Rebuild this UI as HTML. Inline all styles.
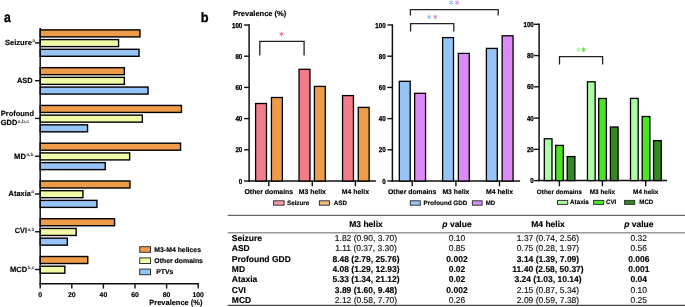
<!DOCTYPE html>
<html><head><meta charset="utf-8"><style>
html,body{margin:0;padding:0;background:#fff;}
body{width:685px;height:307px;overflow:hidden;}
svg{display:block;font-family:"Liberation Sans", sans-serif;will-change:transform;text-rendering:geometricPrecision;}
text{stroke:#000;stroke-width:0.15px;}
</style></head><body>
<svg width="685" height="307" viewBox="0 0 685 307">
<rect width="685" height="307" fill="#fff"/>
<text transform="translate(4.0,21.8) scale(0.86,1)" font-size="14.2" font-weight="bold" style="stroke-width:0.3px">a</text>
<line x1="40.2" y1="28" x2="40.2" y2="284.5" stroke="#111" stroke-width="1.5"/>
<line x1="39.5" y1="283.8" x2="198.89999999999998" y2="283.8" stroke="#111" stroke-width="1.5"/>
<line x1="40.2" y1="283.8" x2="40.2" y2="288.6" stroke="#111" stroke-width="1.4"/>
<text x="40.2" y="296.9" font-size="6.9" font-weight="bold" text-anchor="middle" fill="#000" >0</text>
<line x1="71.80000000000001" y1="283.8" x2="71.80000000000001" y2="288.6" stroke="#111" stroke-width="1.4"/>
<text x="71.80000000000001" y="296.9" font-size="6.9" font-weight="bold" text-anchor="middle" fill="#000" >20</text>
<line x1="103.4" y1="283.8" x2="103.4" y2="288.6" stroke="#111" stroke-width="1.4"/>
<text x="103.4" y="296.9" font-size="6.9" font-weight="bold" text-anchor="middle" fill="#000" >40</text>
<line x1="135.0" y1="283.8" x2="135.0" y2="288.6" stroke="#111" stroke-width="1.4"/>
<text x="135.0" y="296.9" font-size="6.9" font-weight="bold" text-anchor="middle" fill="#000" >60</text>
<line x1="166.60000000000002" y1="283.8" x2="166.60000000000002" y2="288.6" stroke="#111" stroke-width="1.4"/>
<text x="166.60000000000002" y="296.9" font-size="6.9" font-weight="bold" text-anchor="middle" fill="#000" >80</text>
<line x1="198.2" y1="283.8" x2="198.2" y2="288.6" stroke="#111" stroke-width="1.4"/>
<text x="198.2" y="296.9" font-size="6.9" font-weight="bold" text-anchor="middle" fill="#000" >100</text>
<text x="149.3" y="304.8" font-size="7.5" font-weight="bold" textLength="53.1" lengthAdjust="spacingAndGlyphs">Prevalence (%)</text>
<rect x="40.20" y="29.90" width="99.75" height="7.00" fill="#ee9c4a" stroke="#000" stroke-width="1.4"/>
<rect x="40.20" y="39.60" width="78.35" height="7.00" fill="#f4fba6" stroke="#000" stroke-width="1.4"/>
<rect x="40.20" y="49.30" width="98.85" height="7.00" fill="#97c4f6" stroke="#000" stroke-width="1.4"/>
<line x1="35" y1="42.9" x2="40.2" y2="42.9" stroke="#111" stroke-width="1.4"/>
<text x="4.9" y="44.60" font-size="7.5" font-weight="bold" textLength="27.0" lengthAdjust="spacingAndGlyphs">Seizure</text>
<text x="32.30" y="42.40" font-size="4.9" font-weight="bold" fill="#3a3a3a" style="stroke:none">a</text>
<rect x="40.20" y="67.67" width="84.15" height="7.00" fill="#ee9c4a" stroke="#000" stroke-width="1.4"/>
<rect x="40.20" y="77.37" width="84.15" height="7.00" fill="#f4fba6" stroke="#000" stroke-width="1.4"/>
<rect x="40.20" y="87.07" width="107.85" height="7.00" fill="#97c4f6" stroke="#000" stroke-width="1.4"/>
<line x1="35" y1="80.67" x2="40.2" y2="80.67" stroke="#111" stroke-width="1.4"/>
<text x="17.0" y="83.37" font-size="7.5" font-weight="bold" textLength="15.6" lengthAdjust="spacingAndGlyphs">ASD</text>
<rect x="40.20" y="105.44" width="141.25" height="7.00" fill="#ee9c4a" stroke="#000" stroke-width="1.4"/>
<rect x="40.20" y="115.14" width="102.15" height="7.00" fill="#f4fba6" stroke="#000" stroke-width="1.4"/>
<rect x="40.20" y="124.84" width="47.35" height="7.00" fill="#97c4f6" stroke="#000" stroke-width="1.4"/>
<line x1="35" y1="118.44000000000001" x2="40.2" y2="118.44000000000001" stroke="#111" stroke-width="1.4"/>
<text x="0.8" y="115.6" font-size="7.5" font-weight="bold" textLength="33.2" lengthAdjust="spacingAndGlyphs">Profound</text>
<text x="0.8" y="124.9" font-size="7.5" font-weight="bold" textLength="16.5" lengthAdjust="spacingAndGlyphs">GDD</text>
<text x="17.8" y="122.9" font-size="4.9" font-weight="bold" fill="#3a3a3a" style="stroke:none">a,b,c</text>
<rect x="40.20" y="143.21" width="140.35" height="7.00" fill="#ee9c4a" stroke="#000" stroke-width="1.4"/>
<rect x="40.20" y="152.91" width="89.45" height="7.00" fill="#f4fba6" stroke="#000" stroke-width="1.4"/>
<rect x="40.20" y="162.61" width="65.05" height="7.00" fill="#97c4f6" stroke="#000" stroke-width="1.4"/>
<line x1="35" y1="156.20999999999998" x2="40.2" y2="156.20999999999998" stroke="#111" stroke-width="1.4"/>
<text x="14.1" y="158.51" font-size="7.5" font-weight="bold" textLength="11.9" lengthAdjust="spacingAndGlyphs">MD</text>
<text x="26.40" y="156.31" font-size="4.9" font-weight="bold" fill="#3a3a3a" style="stroke:none">a,b</text>
<rect x="40.20" y="180.98" width="89.75" height="7.00" fill="#ee9c4a" stroke="#000" stroke-width="1.4"/>
<rect x="40.20" y="190.68" width="42.75" height="7.00" fill="#f4fba6" stroke="#000" stroke-width="1.4"/>
<rect x="40.20" y="200.38" width="56.75" height="7.00" fill="#97c4f6" stroke="#000" stroke-width="1.4"/>
<line x1="35" y1="193.98" x2="40.2" y2="193.98" stroke="#111" stroke-width="1.4"/>
<text x="8.6" y="195.58" font-size="7.5" font-weight="bold" textLength="22.3" lengthAdjust="spacingAndGlyphs">Ataxia</text>
<text x="31.30" y="193.38" font-size="4.9" font-weight="bold" fill="#3a3a3a" style="stroke:none">a</text>
<rect x="40.20" y="218.75" width="74.35" height="7.00" fill="#ee9c4a" stroke="#000" stroke-width="1.4"/>
<rect x="40.20" y="228.45" width="35.95" height="7.00" fill="#f4fba6" stroke="#000" stroke-width="1.4"/>
<rect x="40.20" y="238.15" width="27.15" height="7.00" fill="#97c4f6" stroke="#000" stroke-width="1.4"/>
<line x1="35" y1="231.75" x2="40.2" y2="231.75" stroke="#111" stroke-width="1.4"/>
<text x="14.8" y="233.05" font-size="7.5" font-weight="bold" textLength="12.2" lengthAdjust="spacingAndGlyphs">CVI</text>
<text x="27.40" y="230.85" font-size="4.9" font-weight="bold" fill="#3a3a3a" style="stroke:none">a,b</text>
<rect x="40.20" y="256.52" width="47.55" height="7.00" fill="#ee9c4a" stroke="#000" stroke-width="1.4"/>
<rect x="40.20" y="266.22" width="24.65" height="7.00" fill="#f4fba6" stroke="#000" stroke-width="1.4"/>
<line x1="35" y1="269.52" x2="40.2" y2="269.52" stroke="#111" stroke-width="1.4"/>
<text x="10.0" y="271.62" font-size="7.5" font-weight="bold" textLength="17.1" lengthAdjust="spacingAndGlyphs">MCD</text>
<text x="27.50" y="269.42" font-size="4.9" font-weight="bold" fill="#3a3a3a" style="stroke:none">b,c</text>
<rect x="139.70" y="246.70" width="10.80" height="5.60" fill="#ee9c4a" stroke="#333" stroke-width="1.0"/>
<text x="154.3" y="251.90" font-size="6.9" font-weight="bold" xml:space="preserve">M3-M4 helices</text>
<rect x="139.70" y="257.90" width="10.80" height="5.60" fill="#f4fba6" stroke="#333" stroke-width="1.0"/>
<text x="154.3" y="263.10" font-size="6.9" font-weight="bold" xml:space="preserve">Other domains</text>
<rect x="139.70" y="269.10" width="10.80" height="5.60" fill="#97c4f6" stroke="#333" stroke-width="1.0"/>
<text x="154.3" y="274.30" font-size="6.9" font-weight="bold" xml:space="preserve"> PTVs</text>
<text transform="translate(200.7,21.7) scale(0.95,1)" font-size="13.5" font-weight="bold" style="stroke-width:0.3px">b</text>
<text x="232.9" y="15.7" font-size="7.5" font-weight="bold" text-anchor="start" fill="#000" >Prevalence (%)</text>
<line x1="249.1" y1="24.3" x2="249.1" y2="181.7" stroke="#111" stroke-width="1.5"/>
<line x1="248.4" y1="181.0" x2="375.9" y2="181.0" stroke="#111" stroke-width="1.5"/>
<line x1="244.1" y1="181.0" x2="249.1" y2="181.0" stroke="#111" stroke-width="1.4"/>
<text transform="translate(242.30,183.55) scale(1,1.15)" font-size="6.2" font-weight="bold" text-anchor="end" style="stroke-width:0.25px">0</text>
<line x1="244.1" y1="149.8" x2="249.1" y2="149.8" stroke="#111" stroke-width="1.4"/>
<text transform="translate(242.30,152.35) scale(1,1.15)" font-size="6.2" font-weight="bold" text-anchor="end" style="stroke-width:0.25px">20</text>
<line x1="244.1" y1="118.6" x2="249.1" y2="118.6" stroke="#111" stroke-width="1.4"/>
<text transform="translate(242.30,121.15) scale(1,1.15)" font-size="6.2" font-weight="bold" text-anchor="end" style="stroke-width:0.25px">40</text>
<line x1="244.1" y1="87.39999999999999" x2="249.1" y2="87.39999999999999" stroke="#111" stroke-width="1.4"/>
<text transform="translate(242.30,89.95) scale(1,1.15)" font-size="6.2" font-weight="bold" text-anchor="end" style="stroke-width:0.25px">60</text>
<line x1="244.1" y1="56.19999999999999" x2="249.1" y2="56.19999999999999" stroke="#111" stroke-width="1.4"/>
<text transform="translate(242.30,58.75) scale(1,1.15)" font-size="6.2" font-weight="bold" text-anchor="end" style="stroke-width:0.25px">80</text>
<line x1="244.1" y1="25.0" x2="249.1" y2="25.0" stroke="#111" stroke-width="1.4"/>
<text transform="translate(242.30,27.55) scale(1,1.15)" font-size="6.2" font-weight="bold" text-anchor="end" style="stroke-width:0.25px">100</text>
<line x1="268.8" y1="181.0" x2="268.8" y2="186.3" stroke="#111" stroke-width="1.4"/>
<text x="268.8" y="193.8" font-size="6.9" font-weight="bold" text-anchor="middle" fill="#000" >Other domains</text>
<line x1="312.3" y1="181.0" x2="312.3" y2="186.3" stroke="#111" stroke-width="1.4"/>
<text x="312.3" y="193.8" font-size="6.9" font-weight="bold" text-anchor="middle" fill="#000" >M3 helix</text>
<line x1="355.4" y1="181.0" x2="355.4" y2="186.3" stroke="#111" stroke-width="1.4"/>
<text x="355.4" y="193.8" font-size="6.9" font-weight="bold" text-anchor="middle" fill="#000" >M4 helix</text>
<line x1="392.4" y1="24.3" x2="392.4" y2="181.7" stroke="#111" stroke-width="1.5"/>
<line x1="391.7" y1="181.0" x2="520.1" y2="181.0" stroke="#111" stroke-width="1.5"/>
<line x1="387.4" y1="181.0" x2="392.4" y2="181.0" stroke="#111" stroke-width="1.4"/>
<text transform="translate(385.60,183.55) scale(1,1.15)" font-size="6.2" font-weight="bold" text-anchor="end" style="stroke-width:0.25px">0</text>
<line x1="387.4" y1="149.8" x2="392.4" y2="149.8" stroke="#111" stroke-width="1.4"/>
<text transform="translate(385.60,152.35) scale(1,1.15)" font-size="6.2" font-weight="bold" text-anchor="end" style="stroke-width:0.25px">20</text>
<line x1="387.4" y1="118.6" x2="392.4" y2="118.6" stroke="#111" stroke-width="1.4"/>
<text transform="translate(385.60,121.15) scale(1,1.15)" font-size="6.2" font-weight="bold" text-anchor="end" style="stroke-width:0.25px">40</text>
<line x1="387.4" y1="87.39999999999999" x2="392.4" y2="87.39999999999999" stroke="#111" stroke-width="1.4"/>
<text transform="translate(385.60,89.95) scale(1,1.15)" font-size="6.2" font-weight="bold" text-anchor="end" style="stroke-width:0.25px">60</text>
<line x1="387.4" y1="56.19999999999999" x2="392.4" y2="56.19999999999999" stroke="#111" stroke-width="1.4"/>
<text transform="translate(385.60,58.75) scale(1,1.15)" font-size="6.2" font-weight="bold" text-anchor="end" style="stroke-width:0.25px">80</text>
<line x1="387.4" y1="25.0" x2="392.4" y2="25.0" stroke="#111" stroke-width="1.4"/>
<text transform="translate(385.60,27.55) scale(1,1.15)" font-size="6.2" font-weight="bold" text-anchor="end" style="stroke-width:0.25px">100</text>
<line x1="412.2" y1="181.0" x2="412.2" y2="186.3" stroke="#111" stroke-width="1.4"/>
<text x="412.2" y="193.8" font-size="6.85" font-weight="bold" text-anchor="middle" fill="#000" >Other domains</text>
<line x1="455.9" y1="181.0" x2="455.9" y2="186.3" stroke="#111" stroke-width="1.4"/>
<text x="455.9" y="193.8" font-size="6.85" font-weight="bold" text-anchor="middle" fill="#000" >M3 helix</text>
<line x1="499.5" y1="181.0" x2="499.5" y2="186.3" stroke="#111" stroke-width="1.4"/>
<text x="499.5" y="193.8" font-size="6.85" font-weight="bold" text-anchor="middle" fill="#000" >M4 helix</text>
<line x1="539.1" y1="23.6" x2="539.1" y2="181.29999999999998" stroke="#111" stroke-width="1.5"/>
<line x1="538.4" y1="180.6" x2="667.1" y2="180.6" stroke="#111" stroke-width="1.5"/>
<line x1="534.1" y1="180.6" x2="539.1" y2="180.6" stroke="#111" stroke-width="1.4"/>
<text transform="translate(533.80,183.15) scale(1,1.15)" font-size="6.2" font-weight="bold" text-anchor="end" style="stroke-width:0.25px">0</text>
<line x1="534.1" y1="149.34" x2="539.1" y2="149.34" stroke="#111" stroke-width="1.4"/>
<text transform="translate(533.80,151.89) scale(1,1.15)" font-size="6.2" font-weight="bold" text-anchor="end" style="stroke-width:0.25px">20</text>
<line x1="534.1" y1="118.08000000000001" x2="539.1" y2="118.08000000000001" stroke="#111" stroke-width="1.4"/>
<text transform="translate(533.80,120.63) scale(1,1.15)" font-size="6.2" font-weight="bold" text-anchor="end" style="stroke-width:0.25px">40</text>
<line x1="534.1" y1="86.82000000000001" x2="539.1" y2="86.82000000000001" stroke="#111" stroke-width="1.4"/>
<text transform="translate(533.80,89.37) scale(1,1.15)" font-size="6.2" font-weight="bold" text-anchor="end" style="stroke-width:0.25px">60</text>
<line x1="534.1" y1="55.56000000000002" x2="539.1" y2="55.56000000000002" stroke="#111" stroke-width="1.4"/>
<text transform="translate(533.80,58.11) scale(1,1.15)" font-size="6.2" font-weight="bold" text-anchor="end" style="stroke-width:0.25px">80</text>
<line x1="534.1" y1="24.30000000000001" x2="539.1" y2="24.30000000000001" stroke="#111" stroke-width="1.4"/>
<text transform="translate(533.80,26.85) scale(1,1.15)" font-size="6.2" font-weight="bold" text-anchor="end" style="stroke-width:0.25px">100</text>
<line x1="559.4" y1="180.6" x2="559.4" y2="186.3" stroke="#111" stroke-width="1.4"/>
<text x="559.4" y="193.6" font-size="6.4" font-weight="bold" text-anchor="middle" fill="#000" >Other domains</text>
<line x1="602.4" y1="180.6" x2="602.4" y2="186.3" stroke="#111" stroke-width="1.4"/>
<text x="602.4" y="193.6" font-size="6.4" font-weight="bold" text-anchor="middle" fill="#000" >M3 helix</text>
<line x1="645.7" y1="180.6" x2="645.7" y2="186.3" stroke="#111" stroke-width="1.4"/>
<text x="645.7" y="193.6" font-size="6.4" font-weight="bold" text-anchor="middle" fill="#000" >M4 helix</text>
<rect x="255.60" y="103.50" width="10.90" height="77.50" fill="#f27c88" stroke="#000" stroke-width="1.3"/>
<rect x="299.05" y="69.30" width="10.90" height="111.70" fill="#f27c88" stroke="#000" stroke-width="1.3"/>
<rect x="342.55" y="95.60" width="10.90" height="85.40" fill="#f27c88" stroke="#000" stroke-width="1.3"/>
<rect x="271.45" y="97.50" width="10.90" height="83.50" fill="#ee9c4a" stroke="#000" stroke-width="1.3"/>
<rect x="314.40" y="86.40" width="10.90" height="94.60" fill="#ee9c4a" stroke="#000" stroke-width="1.3"/>
<rect x="358.25" y="107.40" width="10.90" height="73.60" fill="#ee9c4a" stroke="#000" stroke-width="1.3"/>
<rect x="399.30" y="81.30" width="10.90" height="99.70" fill="#97c4f6" stroke="#000" stroke-width="1.3"/>
<rect x="442.60" y="37.60" width="10.90" height="143.40" fill="#97c4f6" stroke="#000" stroke-width="1.3"/>
<rect x="486.40" y="48.40" width="10.90" height="132.60" fill="#97c4f6" stroke="#000" stroke-width="1.3"/>
<rect x="414.65" y="93.30" width="10.90" height="87.70" fill="#dd89f9" stroke="#000" stroke-width="1.3"/>
<rect x="458.35" y="53.40" width="10.90" height="127.60" fill="#dd89f9" stroke="#000" stroke-width="1.3"/>
<rect x="502.15" y="35.80" width="10.90" height="145.20" fill="#dd89f9" stroke="#000" stroke-width="1.3"/>
<rect x="544.30" y="138.80" width="7.70" height="41.80" fill="#aefaa6" stroke="#000" stroke-width="1.3"/>
<rect x="587.45" y="81.80" width="7.70" height="98.80" fill="#aefaa6" stroke="#000" stroke-width="1.3"/>
<rect x="630.50" y="98.40" width="7.70" height="82.20" fill="#aefaa6" stroke="#000" stroke-width="1.3"/>
<rect x="555.60" y="145.40" width="7.70" height="35.20" fill="#4ae624" stroke="#000" stroke-width="1.3"/>
<rect x="598.70" y="98.50" width="7.70" height="82.10" fill="#4ae624" stroke="#000" stroke-width="1.3"/>
<rect x="642.20" y="116.50" width="7.70" height="64.10" fill="#4ae624" stroke="#000" stroke-width="1.3"/>
<rect x="567.20" y="156.60" width="7.70" height="24.00" fill="#338a20" stroke="#000" stroke-width="1.3"/>
<rect x="610.40" y="127.00" width="7.70" height="53.60" fill="#338a20" stroke="#000" stroke-width="1.3"/>
<rect x="653.55" y="140.60" width="7.70" height="40.00" fill="#338a20" stroke="#000" stroke-width="1.3"/>
<polyline points="259.8,55.6 259.8,41.3 304.1,41.3 304.1,55.6" fill="none" stroke="#222" stroke-width="1.3"/>
<line x1="281.60" y1="32.10" x2="281.60" y2="36.10" stroke="#f27c88" stroke-width="1.0" stroke-linecap="round"/>
<line x1="283.33" y1="33.10" x2="279.87" y2="35.10" stroke="#f27c88" stroke-width="1.0" stroke-linecap="round"/>
<line x1="283.33" y1="35.10" x2="279.87" y2="33.10" stroke="#f27c88" stroke-width="1.0" stroke-linecap="round"/>
<polyline points="410.6,31.6 410.6,23.6 453.8,23.6 453.8,31.6" fill="none" stroke="#222" stroke-width="1.3"/>
<line x1="429.20" y1="14.90" x2="429.20" y2="18.90" stroke="#97c4f6" stroke-width="1.0" stroke-linecap="round"/>
<line x1="430.93" y1="15.90" x2="427.47" y2="17.90" stroke="#97c4f6" stroke-width="1.0" stroke-linecap="round"/>
<line x1="430.93" y1="17.90" x2="427.47" y2="15.90" stroke="#97c4f6" stroke-width="1.0" stroke-linecap="round"/>
<line x1="435.30" y1="14.90" x2="435.30" y2="18.90" stroke="#dd89f9" stroke-width="1.0" stroke-linecap="round"/>
<line x1="437.03" y1="15.90" x2="433.57" y2="17.90" stroke="#dd89f9" stroke-width="1.0" stroke-linecap="round"/>
<line x1="437.03" y1="17.90" x2="433.57" y2="15.90" stroke="#dd89f9" stroke-width="1.0" stroke-linecap="round"/>
<polyline points="410.4,15.6 410.4,9.6 498.2,9.6 498.2,15.6" fill="none" stroke="#222" stroke-width="1.3"/>
<line x1="451.00" y1="0.60" x2="451.00" y2="4.60" stroke="#97c4f6" stroke-width="1.0" stroke-linecap="round"/>
<line x1="452.73" y1="1.60" x2="449.27" y2="3.60" stroke="#97c4f6" stroke-width="1.0" stroke-linecap="round"/>
<line x1="452.73" y1="3.60" x2="449.27" y2="1.60" stroke="#97c4f6" stroke-width="1.0" stroke-linecap="round"/>
<line x1="457.00" y1="0.60" x2="457.00" y2="4.60" stroke="#dd89f9" stroke-width="1.0" stroke-linecap="round"/>
<line x1="458.73" y1="1.60" x2="455.27" y2="3.60" stroke="#dd89f9" stroke-width="1.0" stroke-linecap="round"/>
<line x1="458.73" y1="3.60" x2="455.27" y2="1.60" stroke="#dd89f9" stroke-width="1.0" stroke-linecap="round"/>
<polyline points="559.5,64.4 559.5,56.6 602.6,56.6 602.6,64.4" fill="none" stroke="#222" stroke-width="1.3"/>
<line x1="578.30" y1="47.60" x2="578.30" y2="51.60" stroke="#aefaa6" stroke-width="1.0" stroke-linecap="round"/>
<line x1="580.03" y1="48.60" x2="576.57" y2="50.60" stroke="#aefaa6" stroke-width="1.0" stroke-linecap="round"/>
<line x1="580.03" y1="50.60" x2="576.57" y2="48.60" stroke="#aefaa6" stroke-width="1.0" stroke-linecap="round"/>
<line x1="583.70" y1="47.60" x2="583.70" y2="51.60" stroke="#4ae624" stroke-width="1.0" stroke-linecap="round"/>
<line x1="585.43" y1="48.60" x2="581.97" y2="50.60" stroke="#4ae624" stroke-width="1.0" stroke-linecap="round"/>
<line x1="585.43" y1="50.60" x2="581.97" y2="48.60" stroke="#4ae624" stroke-width="1.0" stroke-linecap="round"/>
<rect x="273.60" y="200.80" width="10.50" height="4.40" fill="#f59aa6" stroke="#333" stroke-width="1.0"/>
<text x="287.0" y="204.8" font-size="6.3" font-weight="bold" textLength="22.2" lengthAdjust="spacingAndGlyphs">Seizure</text>
<rect x="319.40" y="200.80" width="10.00" height="4.40" fill="#f4bd7c" stroke="#333" stroke-width="1.0"/>
<text x="333.8" y="204.8" font-size="6.3" font-weight="bold" textLength="13.2" lengthAdjust="spacingAndGlyphs">ASD</text>
<rect x="410.30" y="200.80" width="10.00" height="4.40" fill="#97c4f6" stroke="#333" stroke-width="1.0"/>
<text x="423.6" y="204.8" font-size="6.3" font-weight="bold" textLength="43.8" lengthAdjust="spacingAndGlyphs">Profound GDD</text>
<rect x="472.40" y="200.80" width="9.70" height="4.40" fill="#dd89f9" stroke="#333" stroke-width="1.0"/>
<text x="485.7" y="204.8" font-size="6.3" font-weight="bold" textLength="9.4" lengthAdjust="spacingAndGlyphs">MD</text>
<rect x="557.50" y="200.40" width="10.20" height="4.00" fill="#aefaa6" stroke="#333" stroke-width="1.0"/>
<text x="570.1" y="204.4" font-size="6.3" font-weight="bold" textLength="18.7" lengthAdjust="spacingAndGlyphs">Ataxia</text>
<rect x="593.60" y="200.40" width="10.10" height="4.00" fill="#4ae624" stroke="#333" stroke-width="1.0"/>
<text x="606.0" y="204.4" font-size="6.3" font-weight="bold" textLength="10.3" lengthAdjust="spacingAndGlyphs">CVI</text>
<rect x="624.60" y="200.40" width="10.10" height="4.00" fill="#338a20" stroke="#333" stroke-width="1.0"/>
<text x="639.3" y="204.4" font-size="6.3" font-weight="bold" textLength="14.0" lengthAdjust="spacingAndGlyphs">MCD</text>
<line x1="227.7" y1="215.4" x2="685" y2="215.4" stroke="#666" stroke-width="1.1"/>
<line x1="227.7" y1="232.8" x2="685" y2="232.8" stroke="#999" stroke-width="1.5"/>
<line x1="227.7" y1="305.4" x2="685" y2="305.4" stroke="#4a4a4a" stroke-width="1.2"/>
<text x="366.0" y="226.9" font-size="8.5" font-weight="bold" text-anchor="middle" fill="#000" >M3 helix</text>
<text x="457.0" y="226.9" font-size="8.5" font-weight="bold" text-anchor="middle"><tspan font-style="italic">p</tspan> value</text>
<text x="548.0" y="226.9" font-size="8.5" font-weight="bold" text-anchor="middle" fill="#000" >M4 helix</text>
<text x="638.8" y="226.9" font-size="8.5" font-weight="bold" text-anchor="middle"><tspan font-style="italic">p</tspan> value</text>
<text x="231.8" y="240.7" font-size="8.5" font-weight="bold" text-anchor="start" fill="#000" >Seizure</text>
<text x="366.0" y="240.7" font-size="8.5" font-weight="normal" text-anchor="middle" fill="#1a1a1a" >1.82 (0.90, 3.70)</text>
<text x="457.0" y="240.7" font-size="8.5" font-weight="normal" text-anchor="middle" fill="#1a1a1a" >0.10</text>
<text x="548.0" y="240.7" font-size="8.5" font-weight="normal" text-anchor="middle" fill="#1a1a1a" >1.37 (0.74, 2.56)</text>
<text x="638.8" y="240.7" font-size="8.5" font-weight="normal" text-anchor="middle" fill="#1a1a1a" >0.32</text>
<text x="231.8" y="251.1" font-size="8.5" font-weight="bold" text-anchor="start" fill="#000" >ASD</text>
<text x="366.0" y="251.1" font-size="8.5" font-weight="normal" text-anchor="middle" fill="#1a1a1a" >1.11 (0.37, 3.30)</text>
<text x="457.0" y="251.1" font-size="8.5" font-weight="normal" text-anchor="middle" fill="#1a1a1a" >0.85</text>
<text x="548.0" y="251.1" font-size="8.5" font-weight="normal" text-anchor="middle" fill="#1a1a1a" >0.75 (0.28, 1.97)</text>
<text x="638.8" y="251.1" font-size="8.5" font-weight="normal" text-anchor="middle" fill="#1a1a1a" >0.56</text>
<text x="231.8" y="261.5" font-size="8.5" font-weight="bold" text-anchor="start" fill="#000" >Profound GDD</text>
<text x="366.0" y="261.5" font-size="8.5" font-weight="bold" text-anchor="middle" fill="#000" >8.48 (2.79, 25.76)</text>
<text x="457.0" y="261.5" font-size="8.5" font-weight="bold" text-anchor="middle" fill="#000" >0.002</text>
<text x="548.0" y="261.5" font-size="8.5" font-weight="bold" text-anchor="middle" fill="#000" >3.14 (1.39, 7.09)</text>
<text x="638.8" y="261.5" font-size="8.5" font-weight="bold" text-anchor="middle" fill="#000" >0.006</text>
<text x="231.8" y="271.9" font-size="8.5" font-weight="bold" text-anchor="start" fill="#000" >MD</text>
<text x="366.0" y="271.9" font-size="8.5" font-weight="bold" text-anchor="middle" fill="#000" >4.08 (1.29, 12.93)</text>
<text x="457.0" y="271.9" font-size="8.5" font-weight="bold" text-anchor="middle" fill="#000" >0.02</text>
<text x="548.0" y="271.9" font-size="8.5" font-weight="bold" text-anchor="middle" fill="#000" >11.40 (2.58, 50.37)</text>
<text x="638.8" y="271.9" font-size="8.5" font-weight="bold" text-anchor="middle" fill="#000" >0.001</text>
<text x="231.8" y="282.3" font-size="8.5" font-weight="bold" text-anchor="start" fill="#000" >Ataxia</text>
<text x="366.0" y="282.3" font-size="8.5" font-weight="bold" text-anchor="middle" fill="#000" >5.33 (1.34, 21.12)</text>
<text x="457.0" y="282.3" font-size="8.5" font-weight="bold" text-anchor="middle" fill="#000" >0.02</text>
<text x="548.0" y="282.3" font-size="8.5" font-weight="bold" text-anchor="middle" fill="#000" >3.24 (1.03, 10.14)</text>
<text x="638.8" y="282.3" font-size="8.5" font-weight="bold" text-anchor="middle" fill="#000" >0.04</text>
<text x="231.8" y="292.7" font-size="8.5" font-weight="bold" text-anchor="start" fill="#000" >CVI</text>
<text x="366.0" y="292.7" font-size="8.5" font-weight="bold" text-anchor="middle" fill="#000" >3.89 (1.60, 9.48)</text>
<text x="457.0" y="292.7" font-size="8.5" font-weight="bold" text-anchor="middle" fill="#000" >0.002</text>
<text x="548.0" y="292.7" font-size="8.5" font-weight="normal" text-anchor="middle" fill="#1a1a1a" >2.15 (0.87, 5.34)</text>
<text x="638.8" y="292.7" font-size="8.5" font-weight="normal" text-anchor="middle" fill="#1a1a1a" >0.10</text>
<text x="231.8" y="303.1" font-size="8.5" font-weight="bold" text-anchor="start" fill="#000" >MCD</text>
<text x="366.0" y="303.1" font-size="8.5" font-weight="normal" text-anchor="middle" fill="#1a1a1a" >2.12 (0.58, 7.70)</text>
<text x="457.0" y="303.1" font-size="8.5" font-weight="normal" text-anchor="middle" fill="#1a1a1a" >0.26</text>
<text x="548.0" y="303.1" font-size="8.5" font-weight="normal" text-anchor="middle" fill="#1a1a1a" >2.09 (0.59, 7.38)</text>
<text x="638.8" y="303.1" font-size="8.5" font-weight="normal" text-anchor="middle" fill="#1a1a1a" >0.25</text>
</svg>
</body></html>
